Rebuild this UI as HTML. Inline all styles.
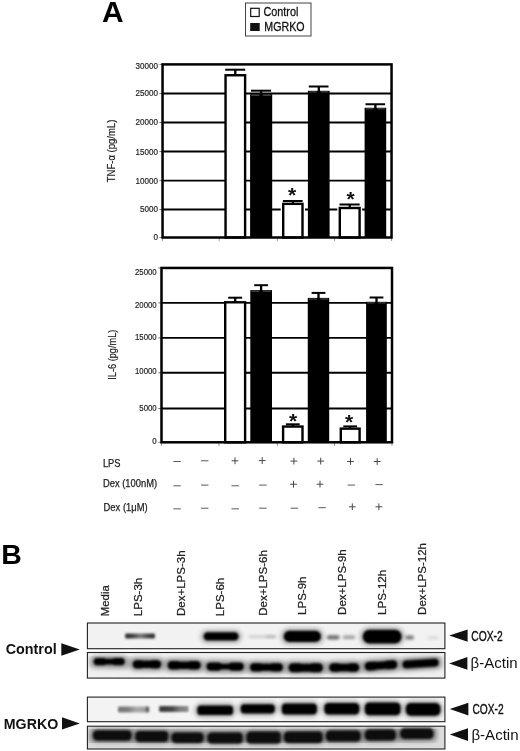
<!DOCTYPE html>
<html lang="en"><head><meta charset="utf-8"><title>Figure</title>
<style>html,body{margin:0;padding:0;background:#fff}svg{display:block}text{font-family:"Liberation Sans",Arial,sans-serif}</style></head><body>
<svg width="520" height="751" viewBox="0 0 520 751">
<defs>
<filter id="b1" x="-20%" y="-80%" width="140%" height="260%"><feGaussianBlur stdDeviation="0.85"/></filter>
<filter id="b2" x="-20%" y="-80%" width="140%" height="260%"><feGaussianBlur stdDeviation="1.6"/></filter>
<filter id="b3" x="-30%" y="-100%" width="160%" height="300%"><feGaussianBlur stdDeviation="2.2"/></filter>
<filter id="t" x="-5%" y="-5%" width="110%" height="110%"><feGaussianBlur stdDeviation="0.35"/></filter>
</defs>
<rect width="520" height="751" fill="#fff"/>
<text x="102.1" y="22.0" font-size="28.6" text-anchor="start" font-weight="bold" fill="#000" textLength="21.6" lengthAdjust="spacingAndGlyphs" >A</text>
<rect x="245.5" y="3" width="65.5" height="33" fill="#fff" stroke="#444" stroke-width="1"/>
<rect x="250.7" y="8.3" width="8.5" height="8.2" fill="#fff" stroke="#111" stroke-width="1.2"/>
<rect x="250.2" y="23" width="9.5" height="8" fill="#111"/>
<text x="263.4" y="16.3" font-size="13.6" text-anchor="start" font-weight="normal" fill="#111" textLength="35" lengthAdjust="spacingAndGlyphs" stroke="#111" stroke-width="0.3">Control</text>
<text x="264.3" y="31.1" font-size="12.6" text-anchor="start" font-weight="normal" fill="#111" textLength="40.3" lengthAdjust="spacingAndGlyphs" stroke="#111" stroke-width="0.3">MGRKO</text>
<line x1="159.4" y1="64.40" x2="162.55" y2="64.40" stroke="#777" stroke-width="1"/>
<text x="158.0" y="68.55" font-size="9.3" text-anchor="end" font-weight="normal" fill="#222" textLength="22.4" lengthAdjust="spacingAndGlyphs" stroke="#222" stroke-width="0.2">30000</text>
<line x1="162.55" y1="93.45" x2="391.55" y2="93.45" stroke="#000" stroke-width="1.9"/>
<line x1="159.4" y1="93.45" x2="162.55" y2="93.45" stroke="#777" stroke-width="1"/>
<text x="158.0" y="96.45" font-size="9.3" text-anchor="end" font-weight="normal" fill="#222" textLength="22.4" lengthAdjust="spacingAndGlyphs" stroke="#222" stroke-width="0.2">25000</text>
<line x1="162.55" y1="122.50" x2="391.55" y2="122.50" stroke="#000" stroke-width="1.9"/>
<line x1="159.4" y1="122.50" x2="162.55" y2="122.50" stroke="#777" stroke-width="1"/>
<text x="158.0" y="125.25" font-size="9.3" text-anchor="end" font-weight="normal" fill="#222" textLength="22.4" lengthAdjust="spacingAndGlyphs" stroke="#222" stroke-width="0.2">20000</text>
<line x1="162.55" y1="151.55" x2="391.55" y2="151.55" stroke="#000" stroke-width="1.9"/>
<line x1="159.4" y1="151.55" x2="162.55" y2="151.55" stroke="#777" stroke-width="1"/>
<text x="158.0" y="154.55" font-size="9.3" text-anchor="end" font-weight="normal" fill="#222" textLength="22.4" lengthAdjust="spacingAndGlyphs" stroke="#222" stroke-width="0.2">15000</text>
<line x1="162.55" y1="180.60" x2="391.55" y2="180.60" stroke="#000" stroke-width="1.9"/>
<line x1="159.4" y1="180.60" x2="162.55" y2="180.60" stroke="#777" stroke-width="1"/>
<text x="158.0" y="183.85" font-size="9.3" text-anchor="end" font-weight="normal" fill="#222" textLength="22.4" lengthAdjust="spacingAndGlyphs" stroke="#222" stroke-width="0.2">10000</text>
<line x1="162.55" y1="209.45" x2="391.55" y2="209.45" stroke="#000" stroke-width="1.9"/>
<line x1="159.4" y1="209.45" x2="162.55" y2="209.45" stroke="#777" stroke-width="1"/>
<text x="158.0" y="212.35" font-size="9.3" text-anchor="end" font-weight="normal" fill="#222" textLength="18.0" lengthAdjust="spacingAndGlyphs" stroke="#222" stroke-width="0.2">5000</text>
<line x1="159.4" y1="237.50" x2="162.55" y2="237.50" stroke="#777" stroke-width="1"/>
<text x="158.0" y="239.95" font-size="9.3" text-anchor="end" font-weight="normal" fill="#222" textLength="4.5" lengthAdjust="spacingAndGlyphs" stroke="#222" stroke-width="0.2">0</text>
<line x1="162.3" y1="237.5" x2="162.3" y2="241.1" stroke="#999" stroke-width="1"/>
<line x1="219.2" y1="237.5" x2="219.2" y2="241.1" stroke="#999" stroke-width="1"/>
<line x1="277.4" y1="237.5" x2="277.4" y2="241.1" stroke="#999" stroke-width="1"/>
<line x1="334.5" y1="237.5" x2="334.5" y2="241.1" stroke="#999" stroke-width="1"/>
<line x1="391.6" y1="237.5" x2="391.6" y2="241.1" stroke="#999" stroke-width="1"/>
<rect x="225.55" y="75.25" width="19.55" height="162.25" fill="#fff" stroke="#000" stroke-width="2.4"/>
<line x1="235.3" y1="69.7" x2="235.3" y2="75.1" stroke="#000" stroke-width="2.3"/>
<line x1="225.2" y1="69.7" x2="245.2" y2="69.7" stroke="#000" stroke-width="2"/>
<rect x="250.10" y="94.20" width="22.10" height="143.30" fill="#000"/>
<path d="M251.3 95.3H259.3M262.9 95.3H271.0" stroke="#888" stroke-width="0.6" fill="none"/>
<line x1="261.1" y1="90.7" x2="261.1" y2="95.2" stroke="#000" stroke-width="2.3"/>
<line x1="251.0" y1="90.7" x2="271.1" y2="90.7" stroke="#000" stroke-width="2"/>
<rect x="280.70" y="202.70" width="24.30" height="33.60" fill="#fff"/>
<rect x="283.20" y="203.85" width="19.30" height="33.65" fill="#fff" stroke="#000" stroke-width="2.4"/>
<line x1="292.9" y1="201" x2="292.9" y2="203.7" stroke="#000" stroke-width="2.3"/>
<line x1="282.9" y1="201" x2="302.6" y2="201" stroke="#000" stroke-width="2"/>
<rect x="307.90" y="90.80" width="21.70" height="146.70" fill="#000"/>
<path d="M309.1 91.9H316.9M320.6 91.9H328.4" stroke="#888" stroke-width="0.6" fill="none"/>
<line x1="318.8" y1="86.5" x2="318.8" y2="91.8" stroke="#000" stroke-width="2.3"/>
<line x1="308.8" y1="86.5" x2="328.5" y2="86.5" stroke="#000" stroke-width="2"/>
<rect x="337.30" y="206.85" width="24.80" height="29.45" fill="#fff"/>
<rect x="339.80" y="208.00" width="19.80" height="29.50" fill="#fff" stroke="#000" stroke-width="2.4"/>
<line x1="349.7" y1="204.5" x2="349.7" y2="207.85" stroke="#000" stroke-width="2.3"/>
<line x1="339.5" y1="204.5" x2="359.7" y2="204.5" stroke="#000" stroke-width="2"/>
<rect x="364.60" y="107.75" width="21.60" height="129.75" fill="#000"/>
<path d="M365.8 108.8H373.6M377.2 108.8H385.0" stroke="#888" stroke-width="0.6" fill="none"/>
<line x1="375.4" y1="104.25" x2="375.4" y2="108.75" stroke="#000" stroke-width="2.3"/>
<line x1="365.5" y1="104.25" x2="385.1" y2="104.25" stroke="#000" stroke-width="2"/>
<rect x="162.55" y="64.4" width="229.00" height="173.10" fill="none" stroke="#000" stroke-width="2.5"/>
<text x="292.2" y="202.4" font-size="21" text-anchor="middle" font-weight="bold" fill="#111" >*</text>
<text x="350.7" y="206.3" font-size="21" text-anchor="middle" font-weight="bold" fill="#111" >*</text>
<text transform="translate(115.3 150.95) rotate(-90)" font-size="10.5" fill="#222" stroke="#222" stroke-width="0.2" text-anchor="middle" textLength="62.5" lengthAdjust="spacingAndGlyphs">TNF-α (pg/mL)</text>
<line x1="158.3" y1="267.95" x2="161.5" y2="267.95" stroke="#777" stroke-width="1"/>
<text x="156.7" y="274.55" font-size="9.3" text-anchor="end" font-weight="normal" fill="#222" textLength="21.7" lengthAdjust="spacingAndGlyphs" stroke="#222" stroke-width="0.2">25000</text>
<line x1="161.5" y1="302.90" x2="392.0" y2="302.90" stroke="#000" stroke-width="1.9"/>
<line x1="158.3" y1="302.90" x2="161.5" y2="302.90" stroke="#777" stroke-width="1"/>
<text x="156.7" y="307.75" font-size="9.3" text-anchor="end" font-weight="normal" fill="#222" textLength="21.7" lengthAdjust="spacingAndGlyphs" stroke="#222" stroke-width="0.2">20000</text>
<line x1="161.5" y1="337.90" x2="392.0" y2="337.90" stroke="#000" stroke-width="1.9"/>
<line x1="158.3" y1="337.90" x2="161.5" y2="337.90" stroke="#777" stroke-width="1"/>
<text x="156.7" y="340.35" font-size="9.3" text-anchor="end" font-weight="normal" fill="#222" textLength="21.7" lengthAdjust="spacingAndGlyphs" stroke="#222" stroke-width="0.2">15000</text>
<line x1="161.5" y1="372.80" x2="392.0" y2="372.80" stroke="#000" stroke-width="1.9"/>
<line x1="158.3" y1="372.80" x2="161.5" y2="372.80" stroke="#777" stroke-width="1"/>
<text x="156.7" y="374.35" font-size="9.3" text-anchor="end" font-weight="normal" fill="#222" textLength="21.7" lengthAdjust="spacingAndGlyphs" stroke="#222" stroke-width="0.2">10000</text>
<line x1="161.5" y1="408.50" x2="392.0" y2="408.50" stroke="#000" stroke-width="1.9"/>
<line x1="158.3" y1="408.50" x2="161.5" y2="408.50" stroke="#777" stroke-width="1"/>
<text x="156.7" y="411.35" font-size="9.3" text-anchor="end" font-weight="normal" fill="#222" textLength="17.4" lengthAdjust="spacingAndGlyphs" stroke="#222" stroke-width="0.2">5000</text>
<line x1="158.3" y1="442.30" x2="161.5" y2="442.30" stroke="#777" stroke-width="1"/>
<text x="156.7" y="444.25" font-size="9.3" text-anchor="end" font-weight="normal" fill="#222" textLength="4.4" lengthAdjust="spacingAndGlyphs" stroke="#222" stroke-width="0.2">0</text>
<line x1="161.4" y1="442.3" x2="161.4" y2="445.9" stroke="#999" stroke-width="1"/>
<line x1="219.0" y1="442.3" x2="219.0" y2="445.9" stroke="#999" stroke-width="1"/>
<line x1="277.4" y1="442.3" x2="277.4" y2="445.9" stroke="#999" stroke-width="1"/>
<line x1="334.5" y1="442.3" x2="334.5" y2="445.9" stroke="#999" stroke-width="1"/>
<line x1="392.0" y1="442.3" x2="392.0" y2="445.9" stroke="#999" stroke-width="1"/>
<rect x="225.20" y="302.30" width="19.90" height="140.00" fill="#fff" stroke="#000" stroke-width="2.4"/>
<line x1="235.2" y1="297.7" x2="235.2" y2="302.15" stroke="#000" stroke-width="2.3"/>
<line x1="228.2" y1="297.7" x2="242.1" y2="297.7" stroke="#000" stroke-width="2"/>
<rect x="250.30" y="290.10" width="21.70" height="152.20" fill="#000"/>
<path d="M251.5 291.2H259.3M262.9 291.2H270.8" stroke="#888" stroke-width="0.6" fill="none"/>
<line x1="261.1" y1="285.2" x2="261.1" y2="291.1" stroke="#000" stroke-width="2.3"/>
<line x1="254.2" y1="285.2" x2="268.0" y2="285.2" stroke="#000" stroke-width="2"/>
<rect x="283.10" y="426.55" width="19.40" height="15.75" fill="#fff" stroke="#000" stroke-width="2.4"/>
<line x1="292.8" y1="424.3" x2="292.8" y2="426.4" stroke="#000" stroke-width="2.3"/>
<line x1="285.9" y1="424.3" x2="299.7" y2="424.3" stroke="#000" stroke-width="2"/>
<rect x="307.75" y="297.90" width="21.45" height="144.40" fill="#000"/>
<path d="M308.9 299.0H316.7M320.3 299.0H328.0" stroke="#888" stroke-width="0.6" fill="none"/>
<line x1="318.5" y1="292.9" x2="318.5" y2="298.9" stroke="#000" stroke-width="2.3"/>
<line x1="311.6" y1="292.9" x2="325.4" y2="292.9" stroke="#000" stroke-width="2"/>
<rect x="340.80" y="428.65" width="18.80" height="13.65" fill="#fff" stroke="#000" stroke-width="2.4"/>
<line x1="350.2" y1="426.4" x2="350.2" y2="428.5" stroke="#000" stroke-width="2.3"/>
<line x1="343.3" y1="426.4" x2="357.1" y2="426.4" stroke="#000" stroke-width="2"/>
<rect x="366.10" y="301.80" width="20.70" height="140.50" fill="#000"/>
<path d="M367.3 302.9H374.7M378.3 302.9H385.6" stroke="#888" stroke-width="0.6" fill="none"/>
<line x1="376.5" y1="297.5" x2="376.5" y2="302.8" stroke="#000" stroke-width="2.3"/>
<line x1="369.6" y1="297.5" x2="383.4" y2="297.5" stroke="#000" stroke-width="2"/>
<rect x="161.5" y="267.95" width="230.50" height="174.35" fill="none" stroke="#000" stroke-width="2.5"/>
<text x="293.2" y="427.5" font-size="21" text-anchor="middle" font-weight="bold" fill="#111" >*</text>
<text x="349.2" y="428.5" font-size="21" text-anchor="middle" font-weight="bold" fill="#111" >*</text>
<text transform="translate(116.4 354.7) rotate(-90)" font-size="10.5" fill="#222" stroke="#222" stroke-width="0.2" text-anchor="middle" textLength="50" lengthAdjust="spacingAndGlyphs">IL-6 (pg/mL)</text>
<text x="102.9" y="466.5" font-size="10.6" text-anchor="start" font-weight="normal" fill="#222" textLength="17.6" lengthAdjust="spacingAndGlyphs" stroke="#222" stroke-width="0.25">LPS</text>
<text x="102.9" y="487.4" font-size="10.6" text-anchor="start" font-weight="normal" fill="#222" textLength="54.2" lengthAdjust="spacingAndGlyphs" stroke="#222" stroke-width="0.25">Dex (100nM)</text>
<text x="103.6" y="511.1" font-size="10.6" text-anchor="start" font-weight="normal" fill="#222" textLength="44.0" lengthAdjust="spacingAndGlyphs" stroke="#222" stroke-width="0.25">Dex (1μM)</text>
<line x1="173.40" y1="461.5" x2="180.80" y2="461.5" stroke="#5a5a5a" stroke-width="1"/>
<line x1="201.05" y1="460.8" x2="208.45" y2="460.8" stroke="#5a5a5a" stroke-width="1"/>
<path d="M231.60 460.8H238.40M235 457.40V464.20" stroke="#484848" stroke-width="1" fill="none"/>
<path d="M258.80 460.6H265.60M262.2 457.20V464.00" stroke="#484848" stroke-width="1" fill="none"/>
<path d="M290.50 461.1H297.30M293.9 457.70V464.50" stroke="#484848" stroke-width="1" fill="none"/>
<path d="M317.30 461.1H324.10M320.7 457.70V464.50" stroke="#484848" stroke-width="1" fill="none"/>
<path d="M347.10 461.5H353.90M350.5 458.10V464.90" stroke="#484848" stroke-width="1" fill="none"/>
<path d="M373.80 461.5H380.60M377.2 458.10V464.90" stroke="#484848" stroke-width="1" fill="none"/>
<line x1="173.40" y1="485.8" x2="180.80" y2="485.8" stroke="#5a5a5a" stroke-width="1"/>
<line x1="201.05" y1="485.1" x2="208.45" y2="485.1" stroke="#5a5a5a" stroke-width="1"/>
<line x1="231.50" y1="485.8" x2="238.90" y2="485.8" stroke="#5a5a5a" stroke-width="1"/>
<line x1="259.20" y1="485.1" x2="266.60" y2="485.1" stroke="#5a5a5a" stroke-width="1"/>
<path d="M290.10 484.2H296.90M293.5 480.80V487.60" stroke="#484848" stroke-width="1" fill="none"/>
<path d="M316.60 484.2H323.40M320 480.80V487.60" stroke="#484848" stroke-width="1" fill="none"/>
<line x1="347.70" y1="485.1" x2="355.10" y2="485.1" stroke="#5a5a5a" stroke-width="1"/>
<line x1="375.40" y1="484.6" x2="382.80" y2="484.6" stroke="#5a5a5a" stroke-width="1"/>
<line x1="173.40" y1="508.85" x2="180.80" y2="508.85" stroke="#5a5a5a" stroke-width="1"/>
<line x1="201.05" y1="508.2" x2="208.45" y2="508.2" stroke="#5a5a5a" stroke-width="1"/>
<line x1="231.50" y1="508.85" x2="238.90" y2="508.85" stroke="#5a5a5a" stroke-width="1"/>
<line x1="259.20" y1="508.2" x2="266.60" y2="508.2" stroke="#5a5a5a" stroke-width="1"/>
<line x1="290.70" y1="508.2" x2="298.10" y2="508.2" stroke="#5a5a5a" stroke-width="1"/>
<line x1="318.40" y1="507.7" x2="325.80" y2="507.7" stroke="#5a5a5a" stroke-width="1"/>
<path d="M348.90 506.8H355.70M352.3 503.40V510.20" stroke="#484848" stroke-width="1" fill="none"/>
<path d="M375.50 506.8H382.30M378.9 503.40V510.20" stroke="#484848" stroke-width="1" fill="none"/>
<text x="1.3" y="563.6" font-size="28.4" text-anchor="start" font-weight="bold" fill="#000" >B</text>
<text transform="translate(109.2 616.2) rotate(-90)" font-size="11.2" fill="#222" stroke="#222" stroke-width="0.25" textLength="31.0" lengthAdjust="spacingAndGlyphs">Media</text>
<text transform="translate(141.8 616.2) rotate(-90)" font-size="11.2" fill="#222" stroke="#222" stroke-width="0.25" textLength="38.4" lengthAdjust="spacingAndGlyphs">LPS-3h</text>
<text transform="translate(185.2 616.0) rotate(-90)" font-size="11.2" fill="#222" stroke="#222" stroke-width="0.25" textLength="65.6" lengthAdjust="spacingAndGlyphs">Dex+LPS-3h</text>
<text transform="translate(224.4 616.2) rotate(-90)" font-size="11.2" fill="#222" stroke="#222" stroke-width="0.25" textLength="38.4" lengthAdjust="spacingAndGlyphs">LPS-6h</text>
<text transform="translate(267.2 615.8) rotate(-90)" font-size="11.2" fill="#222" stroke="#222" stroke-width="0.25" textLength="65.6" lengthAdjust="spacingAndGlyphs">Dex+LPS-6h</text>
<text transform="translate(305.5 614.9) rotate(-90)" font-size="11.2" fill="#222" stroke="#222" stroke-width="0.25" textLength="38.4" lengthAdjust="spacingAndGlyphs">LPS-9h</text>
<text transform="translate(346.0 614.9) rotate(-90)" font-size="11.2" fill="#222" stroke="#222" stroke-width="0.25" textLength="65.6" lengthAdjust="spacingAndGlyphs">Dex+LPS-9h</text>
<text transform="translate(386.1 614.9) rotate(-90)" font-size="11.2" fill="#222" stroke="#222" stroke-width="0.25" textLength="45.2" lengthAdjust="spacingAndGlyphs">LPS-12h</text>
<text transform="translate(425.6 614.9) rotate(-90)" font-size="11.2" fill="#222" stroke="#222" stroke-width="0.25" textLength="71.8" lengthAdjust="spacingAndGlyphs">Dex+LPS-12h</text>
<text x="5.7" y="654.3" font-size="14.5" text-anchor="start" font-weight="bold" fill="#111" textLength="51" lengthAdjust="spacingAndGlyphs" >Control</text>
<polygon points="61.3,643.2 79.8,649.6 61.3,655.8" fill="#111"/>
<text x="3.8" y="728.9" font-size="14.3" text-anchor="start" font-weight="bold" fill="#111" textLength="54.4" lengthAdjust="spacingAndGlyphs" >MGRKO</text>
<polygon points="62,717.3 79.8,723.5 62,729.4" fill="#111"/>
<polygon points="449.2,635.6 467.6,629.6 467.6,641.8" fill="#111"/>
<polygon points="449.2,663.5 467.4,657 467.4,669.8" fill="#111"/>
<polygon points="449.8,709 468.4,702.7 468.4,715.4" fill="#111"/>
<polygon points="449.8,734.6 468,728.2 468,740.9" fill="#111"/>
<text x="471.3" y="640.6" font-size="14.4" text-anchor="start" font-weight="normal" fill="#111" textLength="31.4" lengthAdjust="spacingAndGlyphs" stroke="#111" stroke-width="0.4">COX-2</text>
<text x="470.6" y="668.2" font-size="14.6" text-anchor="start" font-weight="normal" fill="#111" textLength="47" lengthAdjust="spacingAndGlyphs" >β-Actin</text>
<text x="472.5" y="713.5" font-size="14.4" text-anchor="start" font-weight="normal" fill="#111" textLength="31.2" lengthAdjust="spacingAndGlyphs" stroke="#111" stroke-width="0.4">COX-2</text>
<text x="471.4" y="739.5" font-size="14.6" text-anchor="start" font-weight="normal" fill="#111" textLength="47.2" lengthAdjust="spacingAndGlyphs" >β-Actin</text>
<clipPath id="c0"><rect x="87.4" y="623.0" width="357.5" height="25.700000000000045"/></clipPath>
<rect x="87.4" y="623.0" width="357.5" height="25.700000000000045" fill="#f2f2f2"/>
<clipPath id="c1"><rect x="87.4" y="652.5" width="357.5" height="25.600000000000023"/></clipPath>
<rect x="87.4" y="652.5" width="357.5" height="25.600000000000023" fill="#efefef"/>
<clipPath id="c2"><rect x="87.4" y="697.1" width="357.5" height="24.600000000000023"/></clipPath>
<rect x="87.4" y="697.1" width="357.5" height="24.600000000000023" fill="#f3f3f3"/>
<clipPath id="c3"><rect x="87.4" y="726.2" width="357.5" height="22.799999999999955"/></clipPath>
<rect x="87.4" y="726.2" width="357.5" height="22.799999999999955" fill="#dcdcdc"/>
<g clip-path="url(#c0)">
<linearGradient id="g1" x1="0" y1="0" x2="1" y2="0"><stop offset="0" stop-color="#2e2e2e"/><stop offset="0.22" stop-color="#3a3a3a"/><stop offset="0.5" stop-color="#7a7a7a"/><stop offset="0.78" stop-color="#444"/><stop offset="1" stop-color="#2e2e2e"/></linearGradient>
<rect x="125.2" y="633.50" width="29.7" height="5.00" rx="1.2" fill="url(#g1)" filter="url(#b1)" opacity="1"/>
<g><rect x="200.6" y="629.70" width="41.0" height="13.40" rx="6.70" fill="#808080" filter="url(#b3)" opacity="0.6"/><rect x="203.6" y="632.20" width="35.0" height="8.40" rx="4.20" fill="#050505" filter="url(#b1)" opacity="1"/></g>
<g><rect x="248.3" y="635.60" width="27.7" height="2.20" rx="1.10" fill="#aaa" filter="url(#b2)" opacity="0.6"/></g>
<g><rect x="265.8" y="635.60" width="10.2" height="2.20" rx="1.10" fill="#999" filter="url(#b2)" opacity="0.5"/></g>
<g><rect x="280.7" y="628.30" width="43.3" height="16.20" rx="8.10" fill="#808080" filter="url(#b3)" opacity="0.6"/><rect x="283.7" y="630.80" width="37.3" height="11.20" rx="5.60" fill="#050505" filter="url(#b1)" opacity="1"/></g>
<g><rect x="326.8" y="635.20" width="12.8" height="4.20" rx="2.10" fill="#4a4a4a" filter="url(#b2)" opacity="0.8"/></g>
<g><rect x="342.8" y="635.50" width="12.4" height="3.60" rx="1.80" fill="#777" filter="url(#b2)" opacity="0.7"/></g>
<g><rect x="359.7" y="627.30" width="45.0" height="18.80" rx="9.40" fill="#808080" filter="url(#b3)" opacity="0.6"/><rect x="362.7" y="629.80" width="39.0" height="13.80" rx="6.90" fill="#050505" filter="url(#b1)" opacity="1"/></g>
<g><rect x="405.4" y="635.50" width="8.6" height="4.00" rx="2.00" fill="#555" filter="url(#b2)" opacity="0.8"/></g>
<g><rect x="427.8" y="636.60" width="10.4" height="2.40" rx="1.20" fill="#aaa" filter="url(#b2)" opacity="0.45"/></g>
</g>
<g clip-path="url(#c1)">
<path d="M90 662 L160 664.5 L240 667 L330 668 L400 665 L442 662.5" stroke="#a8a8a8" stroke-width="11" fill="none" filter="url(#b3)" opacity="0.75"/>
<g><rect x="90.6" y="655.50" width="37.2" height="12.20" rx="6.10" fill="#808080" filter="url(#b3)" opacity="0.6"/><g filter="url(#b1)" opacity="1" fill="#050505"><rect x="96.6" y="658.70" width="25.2" height="5.80"/><rect x="93.6" y="658.00" width="13.1" height="7.20" rx="3.60"/><rect x="111.7" y="658.00" width="13.1" height="7.20" rx="3.60"/></g></g>
<g><rect x="129.6" y="657.65" width="34.6" height="13.30" rx="6.65" fill="#808080" filter="url(#b3)" opacity="0.6"/><g filter="url(#b1)" opacity="1" fill="#050505"><rect x="135.6" y="660.60" width="22.6" height="7.40"/><rect x="132.6" y="660.15" width="12.0" height="8.30" rx="4.15"/><rect x="149.2" y="660.15" width="12.0" height="8.30" rx="4.15"/></g></g>
<g><rect x="164.6" y="658.50" width="39.2" height="13.60" rx="6.80" fill="#808080" filter="url(#b3)" opacity="0.6"/><g filter="url(#b1)" opacity="1" fill="#050505"><rect x="170.6" y="661.60" width="27.2" height="7.40"/><rect x="167.6" y="661.00" width="13.9" height="8.60" rx="4.30"/><rect x="186.9" y="661.00" width="13.9" height="8.60" rx="4.30"/></g></g>
<g><rect x="203.5" y="660.00" width="43.3" height="13.20" rx="6.60" fill="#808080" filter="url(#b3)" opacity="0.6"/><g filter="url(#b1)" opacity="1" fill="#050505"><rect x="209.5" y="663.80" width="31.3" height="5.60"/><rect x="206.5" y="662.50" width="15.7" height="8.20" rx="4.10"/><rect x="228.1" y="662.50" width="15.7" height="8.20" rx="4.10"/></g></g>
<g><rect x="246.9" y="660.65" width="39.1" height="13.30" rx="6.65" fill="#808080" filter="url(#b3)" opacity="0.6"/><g filter="url(#b1)" opacity="1" fill="#050505"><rect x="252.9" y="663.70" width="27.1" height="7.20"/><rect x="249.9" y="663.15" width="13.9" height="8.30" rx="4.15"/><rect x="269.1" y="663.15" width="13.9" height="8.30" rx="4.15"/></g></g>
<g><rect x="285.5" y="660.80" width="40.5" height="14.00" rx="7.00" fill="#808080" filter="url(#b3)" opacity="0.6"/><g filter="url(#b1)" opacity="1" fill="#050505"><rect x="291.5" y="663.80" width="28.5" height="8.00"/><rect x="288.5" y="663.30" width="14.5" height="9.00" rx="4.50"/><rect x="308.5" y="663.30" width="14.5" height="9.00" rx="4.50"/></g></g>
<g><rect x="326.1" y="660.85" width="36.2" height="13.50" rx="6.75" fill="#808080" filter="url(#b3)" opacity="0.6"/><g filter="url(#b1)" opacity="1" fill="#050505"><rect x="332.1" y="663.80" width="24.2" height="7.60"/><rect x="329.1" y="663.35" width="12.7" height="8.50" rx="4.25"/><rect x="346.6" y="663.35" width="12.7" height="8.50" rx="4.25"/></g></g>
<g transform="rotate(-4 381.0 665.4)"><rect x="361.6" y="658.50" width="38.8" height="13.80" rx="6.90" fill="#808080" filter="url(#b3)" opacity="0.6"/><g filter="url(#b1)" opacity="1" fill="#050505"><rect x="367.6" y="661.50" width="26.8" height="7.80"/><rect x="364.6" y="661.00" width="13.8" height="8.80" rx="4.40"/><rect x="383.6" y="661.00" width="13.8" height="8.80" rx="4.40"/></g></g>
<g transform="rotate(-3.6 420.6 663.5)"><rect x="399.5" y="657.10" width="42.2" height="12.80" rx="6.40" fill="#808080" filter="url(#b3)" opacity="0.6"/><rect x="402.5" y="659.60" width="36.2" height="7.80" rx="3.90" fill="#050505" filter="url(#b1)" opacity="1"/></g>
</g>
<g clip-path="url(#c2)">
<linearGradient id="g2" x1="0" y1="0" x2="1" y2="0"><stop offset="0" stop-color="#777"/><stop offset="0.3" stop-color="#7c7c7c"/><stop offset="0.6" stop-color="#aaa"/><stop offset="0.86" stop-color="#a0a0a0"/><stop offset="0.93" stop-color="#555"/><stop offset="1" stop-color="#666"/></linearGradient>
<rect x="118.0" y="706.40" width="31.2" height="6.00" rx="1.2" fill="url(#g2)" filter="url(#b1)" opacity="1"/>
<linearGradient id="g3" x1="0" y1="0" x2="1" y2="0"><stop offset="0" stop-color="#3a3a3a"/><stop offset="0.45" stop-color="#484848"/><stop offset="0.7" stop-color="#7c7c7c"/><stop offset="1" stop-color="#8a8a8a"/></linearGradient>
<rect x="159.2" y="706.00" width="29.3" height="6.00" rx="1.2" fill="url(#g3)" filter="url(#b1)" opacity="1"/>
<g><rect x="194.3" y="703.10" width="41.8" height="14.40" rx="7.20" fill="#808080" filter="url(#b3)" opacity="0.6"/><rect x="197.3" y="705.60" width="35.8" height="9.40" rx="3.60" fill="#050505" filter="url(#b1)" opacity="1"/></g>
<g><rect x="237.7" y="701.70" width="40.1" height="14.20" rx="7.10" fill="#808080" filter="url(#b3)" opacity="0.6"/><rect x="240.7" y="704.20" width="34.1" height="9.20" rx="3.60" fill="#050505" filter="url(#b1)" opacity="1"/></g>
<g><rect x="278.8" y="701.10" width="41.1" height="15.80" rx="7.90" fill="#808080" filter="url(#b3)" opacity="0.6"/><rect x="281.8" y="703.60" width="35.1" height="10.80" rx="4.00" fill="#050505" filter="url(#b1)" opacity="1"/></g>
<g><rect x="321.3" y="700.60" width="41.1" height="16.40" rx="8.20" fill="#808080" filter="url(#b3)" opacity="0.6"/><rect x="324.3" y="703.10" width="35.1" height="11.40" rx="4.20" fill="#050505" filter="url(#b1)" opacity="1"/></g>
<g><rect x="361.8" y="700.00" width="41.8" height="17.80" rx="8.90" fill="#808080" filter="url(#b3)" opacity="0.6"/><rect x="364.8" y="702.50" width="35.8" height="12.80" rx="4.60" fill="#050505" filter="url(#b1)" opacity="1"/></g>
<g><rect x="402.8" y="700.45" width="40.6" height="17.70" rx="8.85" fill="#808080" filter="url(#b3)" opacity="0.6"/><rect x="405.8" y="702.95" width="34.6" height="12.70" rx="5.00" fill="#050505" filter="url(#b1)" opacity="1"/></g>
</g>
<g clip-path="url(#c3)">
<path d="M90 735.4 L150 736.5 L225 738 L300 737.2 L345 736 L380 735 L436 733.5" stroke="#8a8a8a" stroke-width="15" fill="none" filter="url(#b3)" opacity="0.85"/>
<path d="M100 735.4 L150 736.5 L225 738 L300 737.2 L345 736 L380 735 L425 733.7" stroke="#5a5a5a" stroke-width="6" fill="none" filter="url(#b2)" opacity="0.8"/>
<g><rect x="89.8" y="727.65" width="45.1" height="15.50" rx="7.75" fill="#808080" filter="url(#b3)" opacity="0.6"/><rect x="92.8" y="730.15" width="39.1" height="10.50" rx="4.60" fill="#0c0c0c" filter="url(#b1)" opacity="1"/></g>
<g><rect x="132.3" y="728.50" width="39.5" height="16.00" rx="8.00" fill="#808080" filter="url(#b3)" opacity="0.6"/><rect x="135.3" y="731.00" width="33.5" height="11.00" rx="4.60" fill="#0c0c0c" filter="url(#b1)" opacity="1"/></g>
<g><rect x="168.3" y="729.95" width="38.7" height="15.50" rx="7.75" fill="#808080" filter="url(#b3)" opacity="0.6"/><rect x="171.3" y="732.45" width="32.7" height="10.50" rx="4.60" fill="#0c0c0c" filter="url(#b1)" opacity="1"/></g>
<g><rect x="204.4" y="730.00" width="41.7" height="16.00" rx="8.00" fill="#808080" filter="url(#b3)" opacity="0.6"/><rect x="207.4" y="732.50" width="35.7" height="11.00" rx="4.60" fill="#0c0c0c" filter="url(#b1)" opacity="1"/></g>
<g><rect x="243.4" y="729.00" width="41.0" height="17.00" rx="8.50" fill="#808080" filter="url(#b3)" opacity="0.6"/><rect x="246.4" y="731.50" width="35.0" height="12.00" rx="4.60" fill="#0c0c0c" filter="url(#b1)" opacity="1"/></g>
<g><rect x="280.8" y="728.95" width="45.4" height="16.50" rx="8.25" fill="#808080" filter="url(#b3)" opacity="0.6"/><rect x="283.8" y="731.45" width="39.4" height="11.50" rx="4.60" fill="#0c0c0c" filter="url(#b1)" opacity="1"/></g>
<g><rect x="322.8" y="728.00" width="41.1" height="16.00" rx="8.00" fill="#808080" filter="url(#b3)" opacity="0.6"/><rect x="325.8" y="730.50" width="35.1" height="11.00" rx="4.60" fill="#0c0c0c" filter="url(#b1)" opacity="1"/></g>
<g><rect x="361.8" y="727.00" width="37.2" height="16.00" rx="8.00" fill="#808080" filter="url(#b3)" opacity="0.6"/><rect x="364.8" y="729.50" width="31.2" height="11.00" rx="4.60" fill="#0c0c0c" filter="url(#b1)" opacity="1"/></g>
<g><rect x="397.2" y="725.80" width="39.4" height="15.80" rx="7.90" fill="#808080" filter="url(#b3)" opacity="0.6"/><rect x="400.2" y="728.30" width="33.4" height="10.80" rx="4.60" fill="#0c0c0c" filter="url(#b1)" opacity="1"/></g>
</g>
<rect x="87.4" y="623.0" width="357.5" height="25.700000000000045" fill="none" stroke="#222" stroke-width="1.1"/>
<rect x="87.4" y="652.5" width="357.5" height="25.600000000000023" fill="none" stroke="#222" stroke-width="1.1"/>
<rect x="87.4" y="697.1" width="357.5" height="24.600000000000023" fill="none" stroke="#222" stroke-width="1.1"/>
<rect x="87.4" y="726.2" width="357.5" height="22.799999999999955" fill="none" stroke="#222" stroke-width="1.1"/>
</svg></body></html>
